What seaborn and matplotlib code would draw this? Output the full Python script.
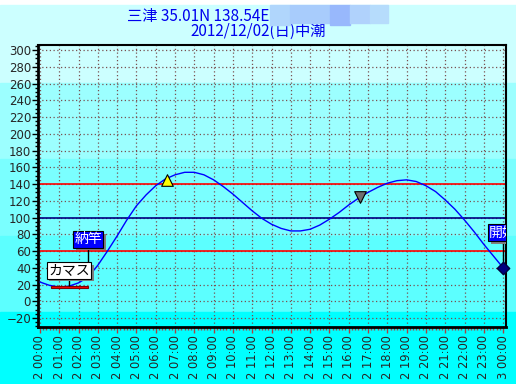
import matplotlib
matplotlib.use("Agg")
import matplotlib.pyplot as plt
from matplotlib.patches import Rectangle
from matplotlib.ticker import MultipleLocator
import matplotlib.patheffects as pe
import seaborn as sns
import pandas as pd

# tide height (cm) every 30 minutes
hours = [i * 0.5 for i in range(49)]
tide = [23, 19, 17, 18, 22, 29, 43, 60, 78, 97, 114, 127, 138, 146, 151, 154, 154,
        151, 145, 137, 128, 118, 108, 99, 92, 87, 84, 84, 86, 91, 98, 106, 115, 123,
        130, 136, 141, 144, 145, 143, 138, 131, 121, 110, 97, 83, 68, 54, 40]

tick_hours = list(range(25))
tick_labels = [f"2 {h:02d}:00" for h in range(24)] + ["3 00:00"]

high_x, high_y = 6.6, 145      # yellow triangle
mid_x, mid_y = 16.6, 124       # gray triangle
end_x, end_y = 24.0, 40        # diamond

red_levels = [140, 60]
navy_levels = [100]

bar_start, bar_end, bar_low, bar_high = 0.57, 2.49, 15.5, 18.5

labels = ["納竿", "カマス", "開始"]
label_x = [2.5, 1.5, 24.0]
label_y = [74, 37, 82]
label_bottom = [66, 29, 74]
line_end = [29, 18.5, 36]

sns.set_theme(style="white")
plt.rcParams['font.family'] = ['DejaVu Sans', 'Noto Sans CJK JP']

fig = plt.figure(figsize=(5.16, 3.84), dpi=100)

# background bands (figure pixels from the top)
bands = [(0, 5, "#ffffff"), (5, 83, "#ccffff"), (83, 159, "#9cffff"),
         (159, 236, "#7affff"), (236, 312, "#5cffff"), (312, 384, "#00ffff")]
for top, bot, col in bands:
    fig.patches.append(Rectangle((0, 1 - bot / 384), 1, (bot - top) / 384,
                                 transform=fig.transFigure, color=col, zorder=-10))

# blurred patch in the title
blur = [(270, 290, 5, 25, "#b0d6fc"), (290, 330, 5, 23, "#a8ccfc"),
        (330, 350, 5, 25, "#98b8fc"), (350, 370, 5, 23, "#b0d2fc"),
        (370, 388, 5, 23, "#b6dcfc")]

ax = fig.add_axes([38 / 516, 1 - 327 / 384, 468 / 516, 282 / 384])
ax.set_facecolor("none")

df = pd.DataFrame({"hour": hours, "tide": tide})
sns.lineplot(data=df, x="hour", y="tide", ax=ax, color="#0000ff", lw=1, zorder=3)

for lv in red_levels:
    ax.axhline(lv, color="#ff0000", lw=1.2, zorder=2)
for lv in navy_levels:
    ax.axhline(lv, color="#000080", lw=1.2, zorder=2)

ax.set_xlim(-0.1, 24.15)
ax.set_ylim(-30.7, 306)
ax.set_xticks(tick_hours)
ax.set_xticklabels(tick_labels, rotation=90, fontsize=8.3)
ax.set_yticks(range(-20, 301, 20))
ax.tick_params(axis="y", labelsize=8.5, length=4, width=1, color="black", left=True, pad=1)
ax.tick_params(axis="x", length=4, width=1, color="#b04040", bottom=True, pad=2)
ax.xaxis.set_minor_locator(MultipleLocator(1 / 6))
ax.yaxis.set_minor_locator(MultipleLocator(5))
ax.tick_params(axis="x", which="minor", length=2.5, color="#b04040", bottom=True)
ax.tick_params(axis="y", which="minor", length=2, color="black", left=True)
ax.set_xlabel("")
ax.set_ylabel("")
ax.grid(True, which="major", color="#7a5050", lw=0.9, ls=(0, (1, 2)), zorder=1)

for side, w in [("left", 2), ("bottom", 2), ("top", 1.5), ("right", 1.5)]:
    ax.spines[side].set_color("black")
    ax.spines[side].set_linewidth(w)

# red bar
ax.add_patch(Rectangle((bar_start, bar_low), bar_end - bar_start, bar_high - bar_low,
                       facecolor="#ff0000", edgecolor="#800000", lw=0.8, zorder=4))

# markers
ax.scatter([high_x], [high_y], marker="^", s=70, color="#ffff00", edgecolor="black",
           lw=0.8, zorder=6)
ax.scatter([mid_x], [mid_y], marker="v", s=70, color="#707070", edgecolor="black",
           lw=0.8, zorder=6)

# leader lines
for x, b, e in zip(label_x, label_bottom, line_end):
    ax.vlines(x, e, b, color="black", lw=1, zorder=5)
ax.scatter([end_x], [end_y], marker="D", s=40, color="#000080", edgecolor="#000040",
           zorder=7, clip_on=False)

# label boxes with shadow
styles = [("white", "#0000ff"), ("black", "white"), ("white", "#0000ff")]
fam = ['Noto Sans CJK JP', 'DejaVu Sans']
for i, (txt, x, y) in enumerate(zip(labels, label_x, label_y)):
    fg, bg = styles[i]
    t = ax.text(x, y, txt, ha="center", va="center", fontsize=10, family=fam, color=fg,
                zorder=9 + i, clip_on=True,
                bbox=dict(boxstyle="square,pad=0.1", fc=bg, ec="black", lw=0.8))
    t.get_bbox_patch().set_path_effects(
        [pe.SimplePatchShadow(offset=(2, -2), shadow_rgbFace="#808080", alpha=1), pe.Normal()])

for x0, x1, y0, y1, col in blur:
    fig.patches.append(Rectangle((x0 / 516, 1 - y1 / 384), (x1 - x0) / 516, (y1 - y0) / 384,
                                 transform=fig.transFigure, color=col, zorder=5))

fig.text(127 / 516, 1 - 16 / 384, "三津 35.01N 138.54E", ha="left", va="center",
         fontsize=11, color="#0000ee", family=fam, zorder=4)
fig.text(258 / 516, 1 - 31 / 384, "2012/12/02(日)中潮", ha="center", va="center",
         fontsize=11, color="#0000ee", family=fam, zorder=4)

fig.savefig("out.png", dpi=100)
